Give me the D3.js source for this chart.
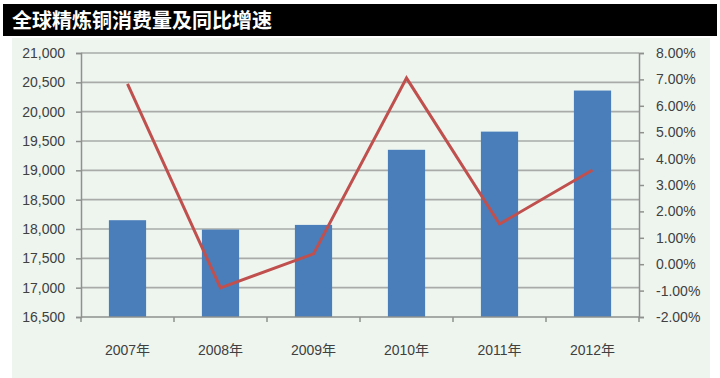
<!DOCTYPE html>
<html>
<head>
<meta charset="utf-8">
<script src="https://cdn.jsdelivr.net/npm/d3@7"></script>
<style>
  body { margin: 0; background: #fff; }
  text { font-family: "Liberation Sans", "Noto Sans CJK SC", sans-serif; }
</style>
</head>
<body>
<div id="chart"></div>
<script>
var width = 720,
	height = 378;

// 数据
var years = ["2007年", "2008年", "2009年", "2010年", "2011年", "2012年"];
var consumption = [18150, 17990, 18070, 19350, 19660, 20360];
var growth = [6.83, -0.90, 0.39, 7.05, 1.52, 3.57];
var leftTicks = [16500, 17000, 17500, 18000, 18500, 19000, 19500, 20000, 20500, 21000];
var rightTicks = [-2, -1, 0, 1, 2, 3, 4, 5, 6, 7, 8];

var svg = d3.select("#chart").append("svg")
	.attr("width", width)
	.attr("height", height);

// 背景面板
svg.append("rect")
	.attr("x", 12).attr("y", 38)
	.attr("width", 698).attr("height", 340)
	.attr("fill", "#eef5ef");

// 标题栏
svg.append("rect")
	.attr("x", 3).attr("y", 4)
	.attr("width", 714).attr("height", 32)
	.attr("fill", "#000");
svg.append("text")
	.attr("x", 12).attr("y", 28)
	.attr("fill", "#fff")
	.style("font-family", "'Noto Sans CJK SC', sans-serif")
	.style("font-size", "20px")
	.style("font-weight", "bold")
	.text("全球精炼铜消费量及同比增速");

var plotLeft = 81, plotRight = 639, plotTop = 53, plotBottom = 317;

var x = d3.scaleBand()
	.domain(years)
	.range([plotLeft, plotRight])
	.paddingInner(0.6)
	.paddingOuter(0.3);

var y = d3.scaleLinear().domain([16500, 21000]).range([plotBottom, plotTop]);
var y2 = d3.scaleLinear().domain([-2, 8]).range([plotBottom, plotTop]);

// 网格线
svg.append("g").selectAll("line")
	.data(leftTicks.slice(1))
	.enter().append("line")
	.attr("x1", plotLeft).attr("x2", plotRight)
	.attr("y1", function(d){ return y(d); })
	.attr("y2", function(d){ return y(d); })
	.attr("stroke", "#a9aba9")
	.attr("stroke-width", 1.6);

// 柱子
svg.append("g").selectAll("rect")
	.data(consumption)
	.enter().append("rect")
	.attr("x", function(d, i){ return x(years[i]); })
	.attr("y", function(d){ return y(d); })
	.attr("width", x.bandwidth())
	.attr("height", function(d){ return plotBottom - y(d); })
	.attr("fill", "#4a7ebb");

// 左轴
var leftAxis = svg.append("g")
	.attr("transform", "translate(" + plotLeft + ",0)")
	.call(d3.axisLeft(y).tickValues(leftTicks).tickSize(5).tickPadding(11)
		.tickFormat(d3.format(",")));

// 右轴
var rightAxis = svg.append("g")
	.attr("transform", "translate(" + plotRight + ",0)")
	.call(d3.axisRight(y2).tickValues(rightTicks).tickSize(5).tickPadding(12)
		.tickFormat(function(d){ return d.toFixed(2) + "%"; }));

// 底轴
var xOuter = d3.scaleLinear().domain([0, years.length]).range([plotLeft, plotRight]);
var bottomAxis = svg.append("g")
	.attr("transform", "translate(0," + plotBottom + ")");
bottomAxis.append("line")
	.attr("x1", plotLeft).attr("x2", plotRight)
	.attr("stroke", "#8e918e").attr("stroke-width", 1.5);
bottomAxis.selectAll(".tk")
	.data(d3.range(years.length + 1))
	.enter().append("line")
	.attr("class", "tk")
	.attr("x1", function(d){ return xOuter(d); })
	.attr("x2", function(d){ return xOuter(d); })
	.attr("y1", 0).attr("y2", 5)
	.attr("stroke", "#8e918e").attr("stroke-width", 1.5);
bottomAxis.selectAll("text")
	.data(years)
	.enter().append("text")
	.attr("x", function(d){ return x(d) + x.bandwidth() / 2; })
	.attr("y", 38)
	.attr("text-anchor", "middle")
	.attr("fill", "#404040")
	.style("font-size", "14px")
	.text(function(d){ return d; });

[leftAxis, rightAxis].forEach(function(g){
	g.select(".domain").attr("stroke", "#8e918e").attr("stroke-width", 1.5);
	g.selectAll(".tick line").attr("stroke", "#8e918e").attr("stroke-width", 1.5);
	g.selectAll(".tick text").attr("fill", "#404040").style("font-size", "14px");
});

// 增速折线
var line = d3.line()
	.x(function(d, i){ return x(years[i]) + x.bandwidth() / 2; })
	.y(function(d){ return y2(d); });

svg.append("path")
	.datum(growth)
	.attr("d", line)
	.attr("fill", "none")
	.attr("stroke", "#c0504d")
	.attr("stroke-width", 3);
</script>
</body>
</html>
